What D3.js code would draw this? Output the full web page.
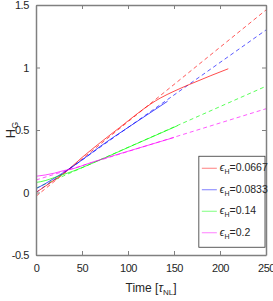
<!DOCTYPE html>
<html>
<head>
<meta charset="utf-8">
<script src="https://cdn.jsdelivr.net/npm/d3@7"></script>
<style>
  body { margin: 0; background: #fff; }
  svg text { font-family: "Liberation Sans Narrow", "Liberation Sans", Arial, sans-serif; fill: #262626; }
</style>
</head>
<body>
<div id="chart"></div>
<script>
// simulated growth curves (solid) and linear fits (dashed)
var labels = ["0.0667", "0.0833", "0.14", "0.2"];
var colors = ["#ff0000", "#0000ff", "#00ff00", "#ff00ff"];

var redTime   = [0, 10, 20, 33, 50, 70, 91, 110, 125, 135, 150, 167, 190, 209];
var redValue  = [0.0, 0.05, 0.1, 0.17, 0.28, 0.4, 0.52, 0.63, 0.71, 0.755, 0.81, 0.865, 0.935, 0.99];
var blueTime  = [0, 10, 20, 30, 50, 70, 100, 143];
var blueValue = [0.03, 0.07, 0.115, 0.16, 0.26, 0.37, 0.52, 0.73];
var greenTime  = [0, 10, 20, 30, 40, 60, 100, 154];
var greenValue = [0.08, 0.095, 0.12, 0.145, 0.17, 0.23, 0.36, 0.535];
var magTime  = [0, 10, 20, 30, 40, 60, 100, 150];
var magValue = [0.13, 0.14, 0.155, 0.175, 0.19, 0.24, 0.33, 0.44];

// fit lines: value at t=0 and t=250
var fitStart = [-0.03, 0.0, 0.035, 0.10];
var fitEnd   = [1.46, 1.30, 0.85, 0.67];
var fitTime  = [0, 250];

var xTicks = [0, 50, 100, 150, 200, 250];
var yTicks = [-0.5, 0, 0.5, 1, 1.5];

var svgWidth = 273, svgHeight = 301;
var margin = { top: 5, right: 7, bottom: 46, left: 36 };
var width = svgWidth - margin.left - margin.right;
var height = svgHeight - margin.top - margin.bottom;

var svg = d3.select("#chart").append("svg")
    .attr("width", svgWidth)
    .attr("height", svgHeight)
    .append("g")
    .attr("transform", "translate(" + margin.left + "," + margin.top + ")");

var x = d3.scaleLinear().domain([0, 250]).range([0, width]);
var y = d3.scaleLinear().domain([-0.5, 1.5]).range([height, 0]);

var series = [
    { t: redTime, v: redValue },
    { t: blueTime, v: blueValue },
    { t: greenTime, v: greenValue },
    { t: magTime, v: magValue }
];

var line = d3.line()
    .curve(d3.curveMonotoneX)
    .x(function(d) { return x(d[0]); })
    .y(function(d) { return y(d[1]); });

var plot = svg.append("g");

series.forEach(function(s, i) {
    var fit = [[fitTime[0], fitStart[i]], [fitTime[1], fitEnd[i]]];
    plot.append("path")
        .datum(fit)
        .attr("d", line)
        .attr("fill", "none")
        .attr("stroke", colors[i])
        .attr("stroke-opacity", 0.65)
        .attr("stroke-width", 1)
        .attr("stroke-dasharray", "4,3");
});

series.forEach(function(s, i) {
    var pts = s.t.map(function(t, j) { return [t, s.v[j]]; });
    plot.append("path")
        .datum(pts)
        .attr("d", line)
        .attr("fill", "none")
        .attr("stroke", colors[i])
        .attr("stroke-opacity", 0.7)
        .attr("stroke-width", 1);
});

// axes box with inward ticks
var axisColor = "#808080";
function styleAxis(g) {
    g.select(".domain").attr("stroke", axisColor).attr("stroke-width", 1.5);
    g.selectAll(".tick line").attr("stroke", axisColor);
    g.selectAll(".tick text").attr("font-size", 11).attr("letter-spacing", -0.4);
}

svg.append("g")
    .attr("transform", "translate(0," + height + ")")
    .call(d3.axisBottom(x).tickValues(xTicks).tickSize(-4).tickSizeOuter(0).tickPadding(9))
    .call(styleAxis);

svg.append("g")
    .call(d3.axisTop(x).tickValues(xTicks).tickSize(-4).tickSizeOuter(0).tickFormat(""))
    .call(styleAxis);

svg.append("g")
    .call(d3.axisLeft(y).tickValues(yTicks).tickSize(-4).tickSizeOuter(0).tickPadding(7)
        .tickFormat(function(d) { return d; }))
    .call(styleAxis);

svg.append("g")
    .attr("transform", "translate(" + width + ",0)")
    .call(d3.axisRight(y).tickValues(yTicks).tickSize(-4).tickSizeOuter(0).tickFormat(""))
    .call(styleAxis);

// axis labels
var xl = svg.append("text")
    .attr("text-anchor", "middle")
    .attr("x", width / 2)
    .attr("y", height + 37)
    .attr("font-size", 12);
xl.append("tspan").text("Time [");
xl.append("tspan").attr("font-style", "italic").text("\u03c4");
xl.append("tspan").attr("font-size", 8).attr("dy", 3).text("NL");
xl.append("tspan").attr("dy", -3).text("]");

var yl = svg.append("text")
    .attr("text-anchor", "middle")
    .attr("transform", "rotate(-90)")
    .attr("x", -125)
    .attr("y", -21)
    .attr("font-size", 13);
yl.append("tspan").text("H");
yl.append("tspan").attr("font-size", 9).attr("dy", 3).text("G");

// legend
var legend = svg.append("g")
    .attr("transform", "translate(" + (x(177) ) + "," + y(0.29) + ")");

legend.append("rect")
    .attr("width", width - x(177) - 1)
    .attr("height", 91)
    .attr("fill", "#fff")
    .attr("stroke", "#333")
    .attr("stroke-width", 0.8);

labels.forEach(function(lab, i) {
    var row = legend.append("g").attr("transform", "translate(0," + (12 + i * 21.5) + ")");
    row.append("line")
        .attr("x1", 3).attr("x2", 18)
        .attr("stroke", colors[i])
        .attr("stroke-opacity", 0.5);
    var t = row.append("text")
        .attr("x", 21)
        .attr("y", 3)
        .attr("font-size", 10.5);
    t.append("tspan").attr("font-style", "italic").text("\u03f5");
    t.append("tspan").attr("font-size", 7).attr("dy", 3).text("H");
    t.append("tspan").attr("dy", -3).text("=" + lab);
});
</script>
</body>
</html>
